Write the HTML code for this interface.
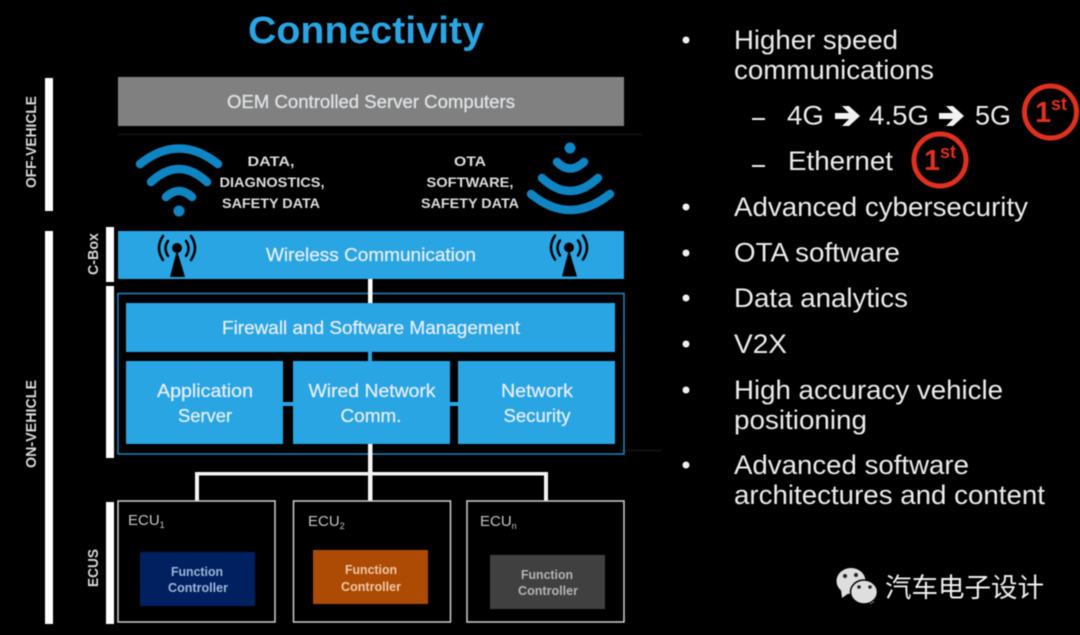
<!DOCTYPE html>
<html><head><meta charset="utf-8"><style>
html,body{margin:0;padding:0;background:#000;width:1080px;height:635px;overflow:hidden}
svg{display:block;filter:blur(.45px)}
text{font-family:"Liberation Sans",sans-serif}
.b{fill:#e6eef4;font-size:18px;text-anchor:middle;stroke:#e6eef4;stroke-width:.25px}
.h{fill:#dcdcdc;font-size:14px;font-weight:bold;text-anchor:middle}
.r{fill:#ebebeb;font-size:27px}
.f{font-size:12.5px;text-anchor:middle;font-weight:bold}
.e{fill:#c4c4c4;font-size:15px}
.s{font-size:9px}
.v{fill:#d8d8d8;font-size:14.5px;font-weight:bold;text-anchor:middle}
.w{fill:none;stroke:#0f85c4;stroke-width:8.500;stroke-linecap:round}
.a{fill:none;stroke:#000;stroke-width:2.500;stroke-linecap:round}
</style></head><body>
<svg width="1080" height="635" viewBox="0 0 1080 635" xmlns="http://www.w3.org/2000/svg">
<rect width="1080" height="635" fill="#000"/>
<text x="366" y="43" text-anchor="middle" font-size="38" font-weight="bold" fill="#29a5e3" textLength="236" lengthAdjust="spacingAndGlyphs">Connectivity</text>

<!-- side bars -->
<g fill="#fff">
<rect x="45" y="78" width="8" height="133"/>
<rect x="45" y="231" width="8" height="393"/>
<rect x="106" y="227" width="8" height="55"/>
<rect x="106" y="286" width="8" height="172"/>
<rect x="106" y="502" width="8" height="122"/>
</g>
<text class="v" transform="translate(36,142) rotate(-90)" textLength="92" lengthAdjust="spacingAndGlyphs">OFF-VEHICLE</text>
<text class="v" transform="translate(36,424) rotate(-90)" textLength="88" lengthAdjust="spacingAndGlyphs">ON-VEHICLE</text>
<text class="v" transform="translate(98,254) rotate(-90)" textLength="42" lengthAdjust="spacingAndGlyphs">C-Box</text>
<text class="v" transform="translate(98,568) rotate(-90)" textLength="38" lengthAdjust="spacingAndGlyphs">ECUS</text>

<!-- faint lines -->
<rect x="118" y="134" width="524" height="1" fill="#1c1c1c"/>
<rect x="620" y="450" width="42" height="1" fill="#1c1c1c"/>

<!-- OEM -->
<rect x="118" y="77" width="506" height="49" fill="#808080"/>
<text class="b" x="371" y="108" style="fill:#e0e0e0" textLength="288" lengthAdjust="spacingAndGlyphs">OEM Controlled Server Computers</text>

<!-- wifi left -->
<path class="w" d="M140 164Q179 133 218 164"/>
<path class="w" d="M151 182Q179 156 207 182"/>
<path class="w" d="M166 197Q179 185 192 197"/>
<circle cx="179" cy="211" r="5.500" fill="#0f85c4"/>
<text class="h" x="271" y="166" textLength="47" lengthAdjust="spacingAndGlyphs">DATA,</text>
<text class="h" x="272" y="187" textLength="105" lengthAdjust="spacingAndGlyphs">DIAGNOSTICS,</text>
<text class="h" x="271" y="208" textLength="98" lengthAdjust="spacingAndGlyphs">SAFETY DATA</text>

<!-- wifi right -->
<circle cx="570" cy="148" r="5.500" fill="#0f85c4"/>
<path class="w" d="M557 162Q570 175 584 162"/>
<path class="w" d="M542 178Q570 204 598 178"/>
<path class="w" d="M531 194Q570 226 610 194"/>
<text class="h" x="470" y="166" textLength="32" lengthAdjust="spacingAndGlyphs">OTA</text>
<text class="h" x="470" y="187" textLength="87" lengthAdjust="spacingAndGlyphs">SOFTWARE,</text>
<text class="h" x="470" y="208" textLength="98" lengthAdjust="spacingAndGlyphs">SAFETY DATA</text>

<!-- wireless -->
<rect x="118" y="231" width="506" height="48" fill="#29a5e3"/>
<text class="b" x="371" y="261" textLength="210" lengthAdjust="spacingAndGlyphs">Wireless Communication</text>
<g>
<path d="M177 250L170 277H185Z" fill="#000"/><circle cx="177" cy="248" r="5" fill="#000"/>
<path class="a" d="M168 241Q163 248 168 256M186 241Q191 248 186 256"/>
<path class="a" d="M163 236Q155 248 163 260M191 236Q199 248 191 260"/>
</g>
<g transform="translate(392,-0.5)">
<path d="M177 250L170 277H185Z" fill="#000"/><circle cx="177" cy="248" r="5" fill="#000"/>
<path class="a" d="M168 241Q163 248 168 256M186 241Q191 248 186 256"/>
<path class="a" d="M163 236Q155 248 163 260M191 236Q199 248 191 260"/>
</g>

<!-- outer box -->
<rect x="118" y="293.500" width="506" height="160.500" fill="none" stroke="#1d87bd" stroke-width="1.500"/>
<rect x="368" y="279" width="4.500" height="24" fill="#fff"/>
<rect x="368" y="352" width="4" height="9" fill="#29a5e3"/>
<rect x="283" y="402" width="10" height="4" fill="#29a5e3"/>
<rect x="450" y="402" width="8" height="4" fill="#29a5e3"/>
<rect x="126" y="303" width="489" height="49" fill="#29a5e3"/>
<text class="b" x="371" y="334" textLength="298" lengthAdjust="spacingAndGlyphs">Firewall and Software Management</text>
<rect x="126" y="361" width="157" height="83" fill="#29a5e3"/>
<rect x="293" y="361" width="157" height="83" fill="#29a5e3"/>
<rect x="458" y="361" width="157" height="83" fill="#29a5e3"/>
<text class="b" x="205" y="397" textLength="96" lengthAdjust="spacingAndGlyphs">Application</text>
<text class="b" x="205" y="422" textLength="54" lengthAdjust="spacingAndGlyphs">Server</text>
<text class="b" x="372" y="397" textLength="127" lengthAdjust="spacingAndGlyphs">Wired Network</text>
<text class="b" x="371" y="422" textLength="61" lengthAdjust="spacingAndGlyphs">Comm.</text>
<text class="b" x="537" y="397" textLength="72" lengthAdjust="spacingAndGlyphs">Network</text>
<text class="b" x="537" y="422" textLength="67" lengthAdjust="spacingAndGlyphs">Security</text>

<!-- connectors -->
<g fill="#f4f4f4">
<rect x="368" y="444" width="4.500" height="58"/>
<rect x="195" y="472" width="353" height="3.500"/>
<rect x="195" y="472" width="4" height="30"/>
<rect x="544" y="472" width="4" height="30"/>
</g>

<!-- ECUs -->
<g fill="#000" stroke="#d0d0d0" stroke-width="1.500">
<rect x="118" y="501" width="157" height="121"/>
<rect x="293.500" y="501" width="157" height="121"/>
<rect x="467" y="501" width="157" height="121"/>
</g>
<text class="e" x="128" y="525">ECU<tspan class="s" dy="3">1</tspan></text>
<text class="e" x="308" y="526">ECU<tspan class="s" dy="3">2</tspan></text>
<text class="e" x="480" y="526">ECU<tspan class="s" dy="3">n</tspan></text>

<rect x="140" y="552" width="115" height="54" fill="#002060"/>
<text class="f" x="197" y="576" fill="#9fb6da" textLength="52" lengthAdjust="spacingAndGlyphs">Function</text>
<text class="f" x="198" y="592" fill="#9fb6da" textLength="60" lengthAdjust="spacingAndGlyphs">Controller</text>
<rect x="313" y="550" width="115" height="54" fill="#ad4a04"/>
<text class="f" x="371" y="574" fill="#eec9a8" textLength="52" lengthAdjust="spacingAndGlyphs">Function</text>
<text class="f" x="371" y="591" fill="#eec9a8" textLength="60" lengthAdjust="spacingAndGlyphs">Controller</text>
<rect x="490" y="555" width="115" height="54" fill="#404040"/>
<text class="f" x="547" y="579" fill="#b4b4b4" textLength="52" lengthAdjust="spacingAndGlyphs">Function</text>
<text class="f" x="548" y="595" fill="#b4b4b4" textLength="60" lengthAdjust="spacingAndGlyphs">Controller</text>

<!-- right list -->
<g fill="#eeeeee">
<circle cx="686" cy="40" r="3.500"/><circle cx="686" cy="207" r="3.500"/><circle cx="686" cy="253" r="3.500"/>
<circle cx="686" cy="298" r="3.500"/><circle cx="686" cy="344" r="3.500"/><circle cx="686" cy="390" r="3.500"/><circle cx="686" cy="465" r="3.500"/>
<rect x="752" y="118" width="13" height="2"/><rect x="752" y="165" width="13" height="2"/>
</g>
<text class="r" x="734" y="49" textLength="164" lengthAdjust="spacingAndGlyphs">Higher speed</text>
<text class="r" x="734" y="79" textLength="200" lengthAdjust="spacingAndGlyphs">communications</text>
<text class="r" x="787" y="124.500" textLength="37" lengthAdjust="spacingAndGlyphs">4G</text>
<text class="r" x="869" y="124.500" textLength="60" lengthAdjust="spacingAndGlyphs">4.5G</text>
<text class="r" x="975" y="124.500" textLength="36" lengthAdjust="spacingAndGlyphs">5G</text>
<g fill="#f2f2f2">
<path d="M835 113H849L842 106H849L860 116L849 126H842L849 119H835Z"/>
<path d="M939 113H953L946 106H953L964 116L953 126H946L953 119H939Z"/>
</g>
<text class="r" x="788" y="170" textLength="105" lengthAdjust="spacingAndGlyphs">Ethernet</text>
<text class="r" x="734" y="216" textLength="294" lengthAdjust="spacingAndGlyphs">Advanced cybersecurity</text>
<text class="r" x="734" y="261.500" textLength="166" lengthAdjust="spacingAndGlyphs">OTA software</text>
<text class="r" x="734" y="307" textLength="174" lengthAdjust="spacingAndGlyphs">Data analytics</text>
<text class="r" x="734" y="353" textLength="53" lengthAdjust="spacingAndGlyphs">V2X</text>
<text class="r" x="734" y="399" textLength="269" lengthAdjust="spacingAndGlyphs">High accuracy vehicle</text>
<text class="r" x="734" y="429" textLength="133" lengthAdjust="spacingAndGlyphs">positioning</text>
<text class="r" x="734" y="474" textLength="235" lengthAdjust="spacingAndGlyphs">Advanced software</text>
<text class="r" x="734" y="504" textLength="311" lengthAdjust="spacingAndGlyphs">architectures and content</text>

<!-- 1st badges -->
<circle cx="1050.500" cy="112" r="26" fill="none" stroke="#e0301e" stroke-width="5"/>
<text x="1035" y="122" font-size="29" font-weight="bold" fill="#e0301e">1</text>
<text x="1051" y="110" font-size="18" font-weight="bold" fill="#e0301e">st</text>
<circle cx="940" cy="160" r="26" fill="none" stroke="#e0301e" stroke-width="5"/>
<text x="924" y="170" font-size="29" font-weight="bold" fill="#e0301e">1</text>
<text x="940" y="158" font-size="18" font-weight="bold" fill="#e0301e">st</text>

<!-- wechat -->
<path d="M841 590L842 598L849 593Z" fill="#dedede"/>
<ellipse cx="851" cy="581" rx="14.500" ry="13" fill="#dedede"/>
<path d="M870 604L874 602L873 598L866 600Z" fill="#dedede"/>
<ellipse cx="864" cy="592" rx="13.500" ry="12" fill="#dedede" stroke="#000" stroke-width="1.500"/>
<g fill="#222"><circle cx="845" cy="576" r="2"/><circle cx="856" cy="575" r="2"/><circle cx="859" cy="587" r="1.800"/><circle cx="870" cy="587" r="1.800"/></g>
<text x="885" y="597" font-size="26.500" fill="#f0f0f0" style="font-family:'Liberation Sans','Noto Sans CJK SC',sans-serif" textLength="159">汽车电子设计</text>
</svg>
</body></html>
